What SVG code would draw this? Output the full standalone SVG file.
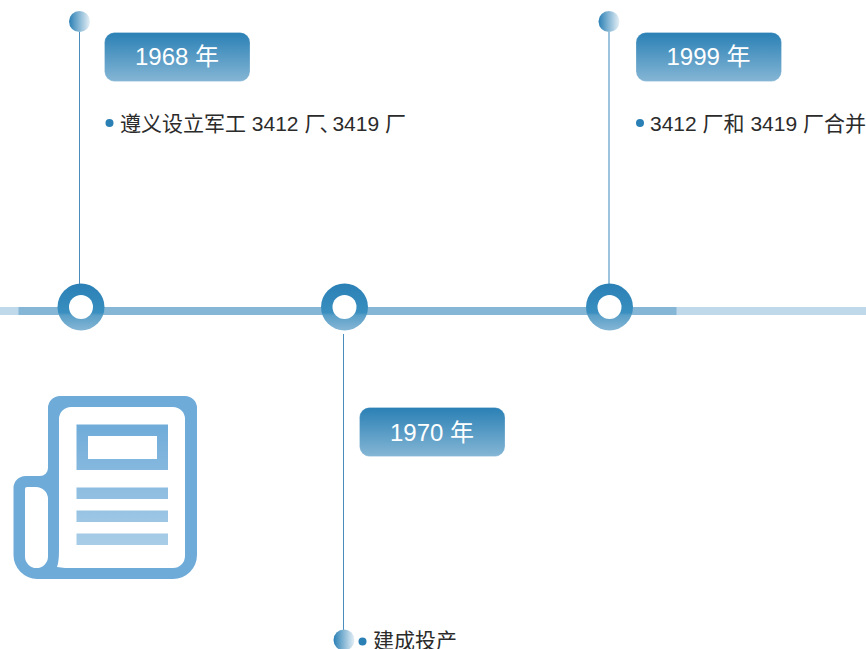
<svg xmlns="http://www.w3.org/2000/svg" width="866" height="649" viewBox="0 0 866 649">
<style>
.t{font-family:"Liberation Sans","Noto Sans CJK SC",sans-serif}
.lab{font-size:24px;fill:#fff;text-anchor:middle}
.body{font-size:21px;fill:#2b2b2b}
.box{fill:url(#gb);stroke:#fff;stroke-opacity:.25;stroke-width:1}
.dot{fill:#2a80b5}
.ball{fill:url(#gh)}
.ring{fill:url(#gr)}
.hole{fill:#fff}
</style>
<defs>
<linearGradient id="gb" x1="0" y1="0" x2="0" y2="1"><stop offset="0" stop-color="#2a80b5"/><stop offset="1" stop-color="#85b6d5"/></linearGradient>
<linearGradient id="gh" x1="0" y1="0" x2="1" y2="0"><stop offset="0" stop-color="#2a80b5"/><stop offset="1" stop-color="#e6f0f6"/></linearGradient>
<linearGradient id="gr" x1="0" y1="0" x2="0" y2="1"><stop offset="0" stop-color="#2a80b5"/><stop offset=".62" stop-color="#3a8fc0"/><stop offset=".68" stop-color="#5a9fc8"/><stop offset="1" stop-color="#85b6d5"/></linearGradient>
<linearGradient id="gi" gradientUnits="userSpaceOnUse" x1="0" y1="424" x2="0" y2="545"><stop offset="0" stop-color="#6fabd9"/><stop offset="1" stop-color="#a8cde7"/></linearGradient>
</defs>
<g id="track">
<rect x="0" y="307" width="866" height="8" fill="#bfd9ea"/>
<rect x="18.500" y="307" width="658" height="8" fill="#85b6d5"/>
</g>
<g id="connectors">
<line x1="79.500" y1="32" x2="79.500" y2="296" stroke="#4a8cbc" stroke-width="1"/>
<line x1="343.500" y1="334" x2="343.500" y2="630" stroke="#4a8cbc" stroke-width="1"/>
<line x1="609" y1="32" x2="609" y2="296" stroke="#9cc4de" stroke-width="2"/>
</g>
<g id="node-1968">
<circle class="ball" cx="79.500" cy="21.500" r="10.500"/>
<circle class="ring" cx="81" cy="307" r="23.500"/>
<circle class="hole" cx="81" cy="307" r="12"/>
<rect class="box" x="104.500" y="32.500" width="145.500" height="49" rx="10"/>
<text class="t lab" x="177" y="65">1968 年</text>
<circle class="dot" cx="109.500" cy="123" r="4"/>
<text class="t body" x="120" y="131">遵义设立军工 3412 厂<tspan dx="-6" letter-spacing="-8">、</tspan>3419 厂</text>
</g>
<g id="node-1970">
<circle class="ring" cx="344.500" cy="307" r="23.500"/>
<circle class="hole" cx="344.500" cy="307" r="12"/>
<rect class="box" x="359.500" y="407.500" width="145.500" height="49" rx="10"/>
<text class="t lab" x="432" y="440.500">1970 年</text>
<circle class="ball" cx="344" cy="640" r="10.500"/>
<circle class="dot" cx="362.500" cy="641.500" r="4"/>
<text class="t body" x="373" y="648">建成投产</text>
</g>
<g id="node-1999">
<circle class="ball" cx="609" cy="21.500" r="10.500"/>
<circle class="ring" cx="609.500" cy="307" r="23.500"/>
<circle class="hole" cx="609.500" cy="307" r="12"/>
<rect class="box" x="636" y="32.500" width="145.500" height="49" rx="10"/>
<text class="t lab" x="708.500" y="65">1999 年</text>
<circle class="dot" cx="640" cy="123" r="4"/>
<text class="t body" x="650" y="131">3412 厂和 3419 厂合并</text>
</g>
<g id="newspaper-icon">
<path fill="#6fabd9" fill-rule="evenodd" d="M60 396H185A12 12 0 0 1 197 408V555A24 24 0 0 1 173 579H37A24 24 0 0 1 13.500 555V488A12 12 0 0 1 25.500 476H40A8 8 0 0 0 48 468V408A12 12 0 0 1 60 396ZM71 407A12 12 0 0 0 59 419V550Q59 562 57 567L65 568H173A12 12 0 0 0 185 556V419A12 12 0 0 0 173 407ZM27 487A2 2 0 0 0 25 489V556.500A11.500 11.500 0 0 0 48 556.500V499A12 12 0 0 0 36 487Z"/>
<path fill="url(#gi)" fill-rule="evenodd" d="M76.500 424.500H168V470H76.500ZM88 436V459H157V436Z"/>
<rect x="76.500" y="487.500" width="91.500" height="11.500" fill="url(#gi)"/>
<rect x="76.500" y="510.500" width="91.500" height="11.500" fill="url(#gi)"/>
<rect x="76.500" y="533.500" width="91.500" height="11.500" fill="url(#gi)"/>
</g>
</svg>
